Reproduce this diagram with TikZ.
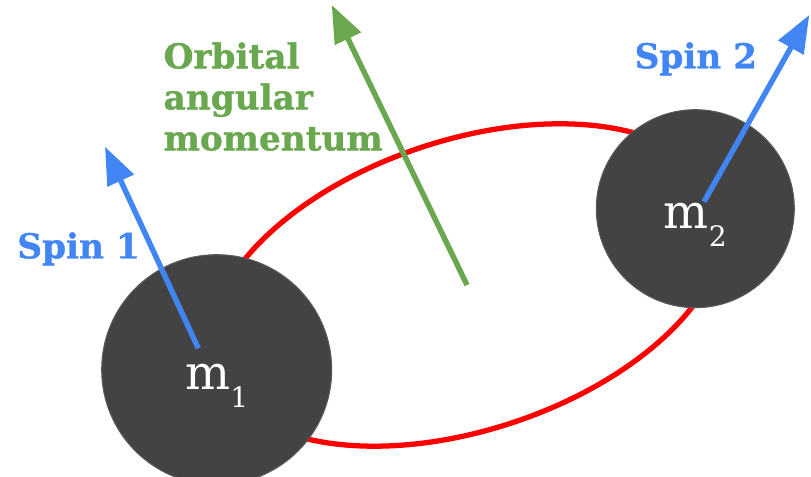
\documentclass[tikz,border=0pt]{standalone}
\usepackage{fontspec}
\setmainfont{DejaVu Serif}[BoldFeatures={FakeBold=1}]
\usetikzlibrary{shapes.geometric, arrows.meta}

\definecolor{spinblue}{HTML}{4285F4}
\definecolor{orbitgreen}{HTML}{6AA84F}
\definecolor{massgray}{HTML}{434343}
\definecolor{massedge}{HTML}{5A5A5A}

\begin{document}
\begin{tikzpicture}[
        mass/.style={circle, fill=massgray, draw=massedge, line width=0.6pt,
            inner sep=0pt, text=white, text height=0.8cm, text depth=0pt,
            font=\fontsize{27}{30}\selectfont},
        orbitpath/.style={ellipse, draw=red, line width=3pt, inner sep=0pt},
        vec/.style={line width=3.1pt, -{Triangle[length=0.75cm, width=0.56cm]}},
        tag/.style={font=\bfseries\fontsize{19.5}{0.82cm}\selectfont, inner sep=0pt, align=left}
    ]
    % Define the label with a subscript
    \def\sub#1{\raisebox{-0.36cm}{\fontsize{16}{17}\selectfont #1}}
    \useasboundingbox (0,0) rectangle (16.22,9.54);
    % Orbit
    \node[orbitpath, minimum width=10.68cm, minimum height=5.8cm, rotate=18.3] (orbit) at (9.34,3.84) {};
    % Masses
    \node[mass, minimum size=4.6cm] (m1) at (4.334,2.146) {m\sub{1}};
    \node[mass, minimum size=3.96cm] (m2) at (13.906,5.366) {m\sub{2}};
    % Spin and orbital vectors
    \coordinate (s1) at (3.966,2.574);
    \coordinate (s1tip) at (2.10,6.606);
    \coordinate (s2) at (14.08,5.506);
    \coordinate (s2tip) at (16.186,9.24);
    \coordinate (Ltip) at (6.634,9.44);
    \draw[vec, spinblue] (s1) -- (s1tip);
    \draw[vec, spinblue] (s2) -- (s2tip);
    \draw[vec, orbitgreen] (orbit.center) -- (Ltip);
    % Labels
    \node[tag, text=spinblue, anchor=base west] (spin1) at (0.34,4.374) {Spin 1};
    \node[tag, text=spinblue, anchor=base west] (spin2) at (12.686,8.174) {Spin 2};
    \node[tag, text=orbitgreen, anchor=north west] (orbital) at (3.266,8.70) {Orbital\\angular\\momentum};
\end{tikzpicture}
\end{document}
